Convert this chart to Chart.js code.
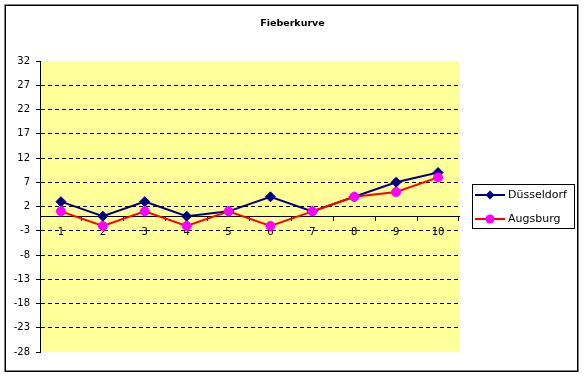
<!DOCTYPE html>
<html><head><meta charset="utf-8">
<script src="https://cdn.jsdelivr.net/npm/chart.js@4/dist/chart.umd.min.js"></script>
<style>html,body{margin:0;padding:0;background:#fff}#wrap{width:584px;height:377px;position:relative}</style>
</head><body><div id="wrap"><canvas id="c" width="584" height="377"></canvas></div>
<script>
const title = 'Fieberkurve';
const categories = ['1','2','3','4','5','6','7','8','9','10'];
const seriesNames = ['Düsseldorf','Augsburg'];
const duesseldorf = [3,0,3,0,1,4,1,4,7,9];
const augsburg = [1,-2,1,-2,1,-2,1,4,5,8];
const yTicks = [-28,-23,-18,-13,-8,-3,2,7,12,17,22,27,32];

const FONT = '"DejaVu Sans", sans-serif';

const deco = {
  id: 'deco',
  beforeDraw(chart) {
    const {ctx, chartArea: a} = chart;
    ctx.save();
    ctx.fillStyle = '#FFFF99';
    ctx.fillRect(a.left, a.top, a.right - a.left, a.bottom - a.top);
    ctx.restore();
  },
  afterDraw(chart) {
    const ctx = chart.ctx;
    ctx.save();
    // frame
    ctx.strokeStyle = '#000'; ctx.lineWidth = 1.5;
    ctx.strokeRect(5.25, 5.25, 572.5, 366);
    // title
    ctx.fillStyle = '#000';
    ctx.font = 'bold 9.5px ' + FONT;
    ctx.textAlign = 'center'; ctx.textBaseline = 'middle';
    ctx.fillText(title, 292.5, 23.5);
    // legend
    ctx.lineWidth = 1; ctx.strokeStyle = '#000';
    ctx.strokeRect(472.5, 184.5, 102, 44);
    const ds = chart.data.datasets;
    const rows = [195, 219];
    ds.forEach((d, i) => {
      const y = rows[i];
      ctx.strokeStyle = d.borderColor; ctx.lineWidth = 2;
      ctx.beginPath(); ctx.moveTo(475, y); ctx.lineTo(505, y); ctx.stroke();
      ctx.fillStyle = d.pointBackgroundColor;
      ctx.beginPath();
      if (d.pointStyle === 'rectRot') {
        ctx.moveTo(490, y - 4.5); ctx.lineTo(494.5, y); ctx.lineTo(490, y + 4.5); ctx.lineTo(485.5, y);
        ctx.closePath();
      } else {
        ctx.arc(490, y, 4.5, 0, Math.PI * 2);
      }
      ctx.fill();
      ctx.fillStyle = '#000';
      ctx.font = '11px ' + FONT;
      ctx.textAlign = 'left'; ctx.textBaseline = 'middle';
      ctx.fillText(d.label, 508, y);
    });
    ctx.restore();
  }
};

new Chart(document.getElementById('c'), {
  type: 'line',
  data: {
    labels: categories,
    datasets: [
      { label: seriesNames[0], data: duesseldorf, borderColor: '#000080', backgroundColor: '#000080',
        pointBackgroundColor: '#000080', pointBorderColor: '#000080', pointStyle: 'rectRot',
        pointRadius: 5, pointBorderWidth: 1, borderWidth: 2, tension: 0, order: 1 },
      { label: seriesNames[1], data: augsburg, borderColor: '#FF0000', backgroundColor: '#FF00FF',
        pointBackgroundColor: '#FF00FF', pointBorderColor: '#FF00FF', pointStyle: 'circle',
        pointRadius: 4.5, pointBorderWidth: 1, borderWidth: 2, tension: 0, order: 0 }
    ]
  },
  options: {
    responsive: false, animation: false, devicePixelRatio: 1,
    layout: { padding: { top: 61, left: 0, right: 125, bottom: 25 } },
    plugins: { legend: { display: false }, title: { display: false }, tooltip: { enabled: false } },
    scales: {
      x: {
        type: 'category', position: { y: 0 }, offset: true,
        grid: { offset: true, drawOnChartArea: false, drawTicks: true, tickLength: 4, color: '#000', tickColor: '#000' },
        border: { display: true, color: '#000', width: 1 },
        ticks: { color: '#000', font: { family: FONT, size: 10 }, padding: 6, autoSkip: false, maxRotation: 0 }
      },
      y: {
        type: 'linear', min: -28, max: 32,
        afterBuildTicks: (s) => { s.ticks = yTicks.map(v => ({ value: v })); },
        afterFit: (s) => { s.width = 40; },
        grid: {
          color: (c) => (c.tick && (c.tick.value === 32 || c.tick.value === -28)) ? 'rgba(0,0,0,0)' : '#000',
          tickColor: '#000', tickLength: 4, lineWidth: 1
        },
        border: { display: true, color: '#000', width: 1, dash: [4, 3] },
        ticks: { color: '#000', font: { family: FONT, size: 10 }, padding: 6 }
      }
    }
  },
  plugins: [deco]
});
</script></body></html>
